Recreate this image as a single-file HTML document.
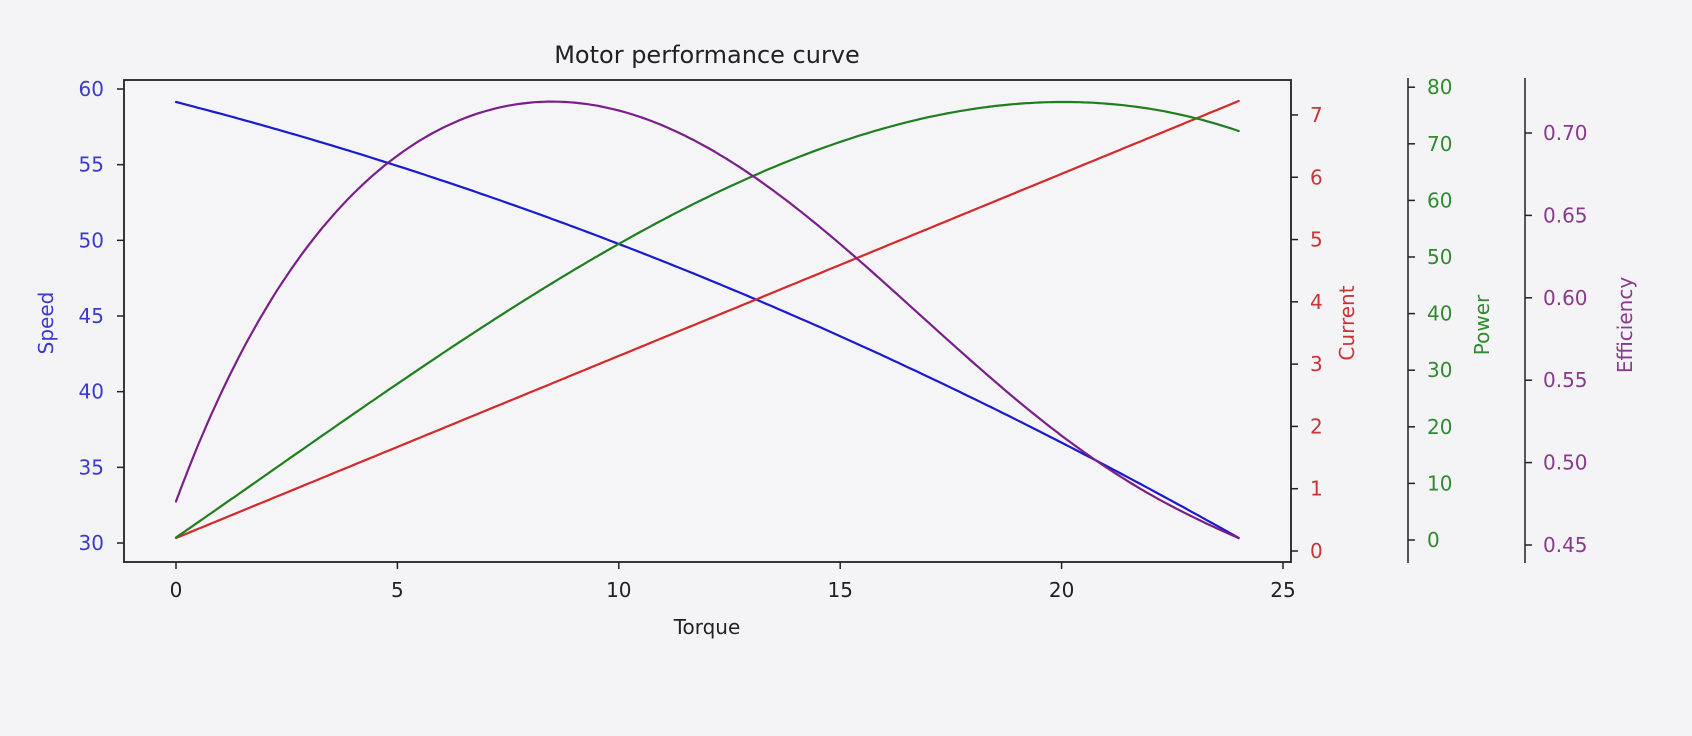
<!DOCTYPE html>
<html><head><meta charset="utf-8"><style>
html,body{margin:0;padding:0;background:#f4f4f7;}
svg{display:block}
text{font-family:"DejaVu Sans","Liberation Sans",sans-serif;font-size:20px}
</style></head><body>
<svg id="s" width="1692" height="736" viewBox="0 0 1692 736" xmlns="http://www.w3.org/2000/svg">
<rect x="0" y="0" width="1692" height="736" fill="#f4f4f7"/>
<rect x="124" y="80" width="1167" height="482" fill="#f5f5f7"/>
<g id="curves" fill="none" stroke-width="2.2" stroke-linejoin="round" stroke-linecap="round"></g>
<rect x="124" y="80" width="1167" height="482" fill="none" stroke="#222" stroke-width="1.8"/>
<g id="ax" stroke="#222" stroke-width="1.5"></g>
<g id="lbl"></g>
<text x="707" y="63" text-anchor="middle" style="font-size:24px" fill="#222">Motor performance curve</text>
<text x="707" y="634" text-anchor="middle" fill="#222">Torque</text>
<text transform="translate(53,323) rotate(-90)" text-anchor="middle" fill="#3a3acc">Speed</text>
<text transform="translate(1354,323) rotate(-90)" text-anchor="middle" fill="#cc3333">Current</text>
<text transform="translate(1489,325) rotate(-90)" text-anchor="middle" fill="#2e8b2e">Power</text>
<text transform="translate(1632,325) rotate(-90)" text-anchor="middle" fill="#8a3a8a">Efficiency</text>
</svg>
<script>
var NS="http://www.w3.org/2000/svg";
function el(p,t,a,txt){var e=document.createElementNS(NS,t);for(var k in a)e.setAttribute(k,a[k]);if(txt!=null)e.textContent=txt;p.appendChild(e);return e;}
var ax=document.getElementById('ax'),lb=document.getElementById('lbl'),cv=document.getElementById('curves');
for(var i=0;i<=5;i++){var x=176+221.4*i;el(ax,'line',{x1:x,y1:562,x2:x,y2:569});el(lb,'text',{x:x,y:597,'text-anchor':'middle',fill:'#222'},String(i*5));}
for(var i=0;i<=6;i++){var y=89+75.67*i;el(ax,'line',{x1:117,y1:y,x2:124,y2:y});el(lb,'text',{x:104,y:y+7,'text-anchor':'end',fill:'#3a3acc'},String(60-5*i));}
for(var i=0;i<=7;i++){var y=551-62.29*i;el(ax,'line',{x1:1291,y1:y,x2:1298,y2:y});el(lb,'text',{x:1310,y:y+7,fill:'#cc3333'},String(i));}
el(ax,'line',{x1:1408,y1:78,x2:1408,y2:563});
for(var i=0;i<=8;i++){var y=540-56.6*i;el(ax,'line',{x1:1408,y1:y,x2:1415,y2:y});el(lb,'text',{x:1427,y:y+7,fill:'#2e8b2e'},String(i*10));}
el(ax,'line',{x1:1525,y1:78,x2:1525,y2:563});
var ev=['0.45','0.50','0.55','0.60','0.65','0.70'];
for(var i=0;i<6;i++){var y=545-82.4*i;el(ax,'line',{x1:1525,y1:y,x2:1532,y2:y});el(lb,'text',{x:1543,y:y+7,fill:'#8a3a8a'},ev[i]);}
function polyfit(P,deg){var m=deg+1,A=[],B=[];for(var i=0;i<m;i++){A.push(new Array(m).fill(0));B.push(0);}
P.forEach(function(p){var s=p[0]/24;var w=p[2]||1;for(var i=0;i<m;i++){B[i]+=w*p[1]*Math.pow(s,i);for(var j=0;j<m;j++)A[i][j]+=w*Math.pow(s,i+j);}});
for(var i=0;i<m;i++){var piv=i;for(var r=i+1;r<m;r++)if(Math.abs(A[r][i])>Math.abs(A[piv][i]))piv=r;var tmp=A[i];A[i]=A[piv];A[piv]=tmp;var tb=B[i];B[i]=B[piv];B[piv]=tb;
for(var r=0;r<m;r++){if(r==i)continue;var f=A[r][i]/A[i][i];for(var c=i;c<m;c++)A[r][c]-=f*A[i][c];B[r]-=f*B[i];}}
var co=B.map(function(b,i){return b/A[i][i];});
return function(t){var s=t/24,v=0;for(var i=m-1;i>=0;i--)v=v*s+co[i];return v;};}
function path(f){var d='';for(var t=0;t<=24.0001;t+=0.1){d+=(d?' L':'M')+(176+44.28*t).toFixed(1)+','+f(t).toFixed(1);}return d;}
var blue=function(t){return 102+11.36*t+0.2836*t*t;};
var red=function(t){return 538-437/24*t;};
var green=polyfit([[0,538,5],[0.77,510],[5.13,383],[9.35,258],[16.17,127],[20.3,102],[24,131,5]],3);
var purple=polyfit([[0,503,5],[0.61,423],[1.38,357],[2.12,303],[3.25,240],[4.83,162],[5.89,127],[7.38,105],[8.5,101],[9.98,110],[11.83,145],[13.05,177],[15.29,258],[17.88,353],[20.48,453],[22.2,500],[24,538,5]],6);
el(cv,'path',{d:path(blue),stroke:'#1a1ad0'});
el(cv,'path',{d:path(red),stroke:'#d42a2a'});
el(cv,'path',{d:path(green),stroke:'#1f7f1f'});
el(cv,'path',{d:path(purple),stroke:'#7a1f8a'});
</script>
</body></html>
